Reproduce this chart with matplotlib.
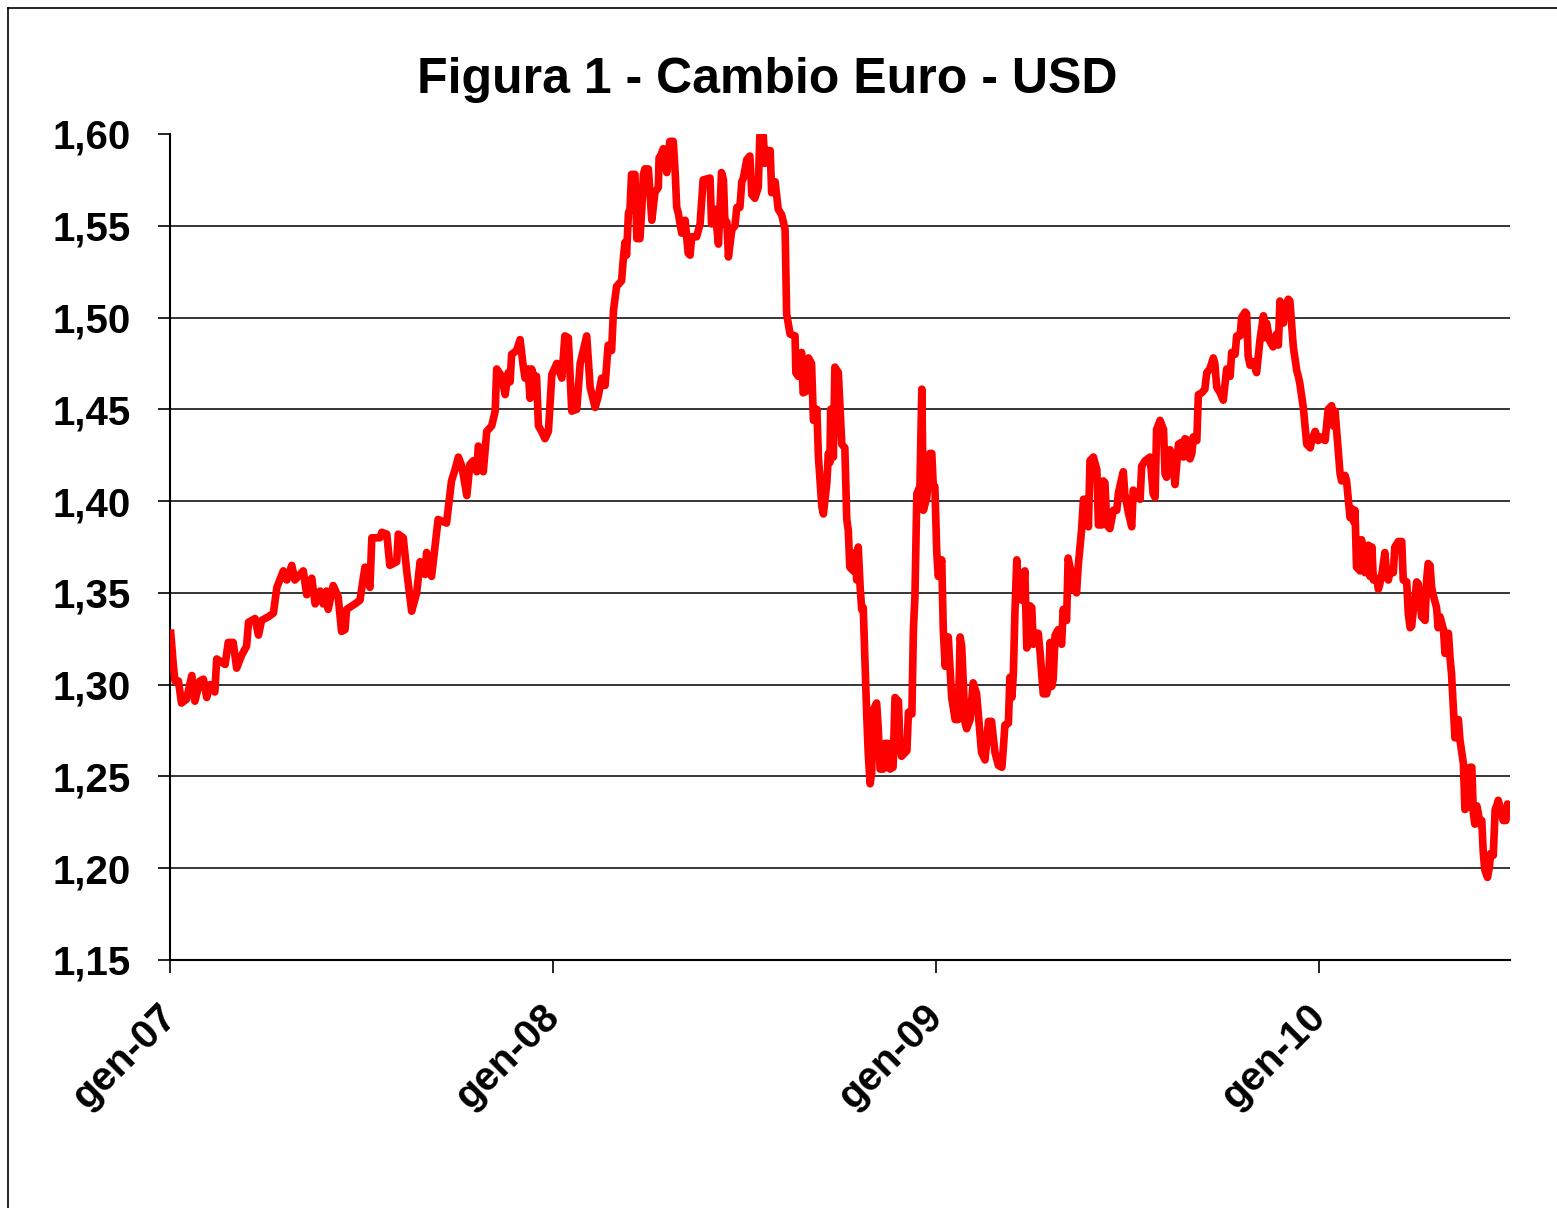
import matplotlib
matplotlib.use("Agg")
import matplotlib.pyplot as plt
from matplotlib.lines import Line2D
from matplotlib.transforms import ScaledTranslation

# ---- data (decimal year, EUR/USD rate) ----
years = [
    2007.002, 2007.009, 2007.013, 2007.022, 2007.030, 2007.043, 2007.057, 2007.065, 2007.078, 2007.087,
    2007.096, 2007.104, 2007.117, 2007.122, 2007.144, 2007.152, 2007.165, 2007.174, 2007.187, 2007.200,
    2007.205, 2007.222, 2007.231, 2007.239, 2007.257, 2007.270, 2007.279, 2007.296, 2007.305, 2007.318,
    2007.326, 2007.348, 2007.357, 2007.370, 2007.379, 2007.392, 2007.400, 2007.409, 2007.413, 2007.426,
    2007.439, 2007.448, 2007.457, 2007.461, 2007.483, 2007.496, 2007.509, 2007.522, 2007.527, 2007.548,
    2007.553, 2007.566, 2007.574, 2007.592, 2007.596, 2007.609, 2007.618, 2007.631, 2007.644, 2007.653,
    2007.666, 2007.670, 2007.683, 2007.696, 2007.700, 2007.722,
    2007.735, 2007.744, 2007.753, 2007.762, 2007.775, 2007.783, 2007.792, 2007.801, 2007.805, 2007.814,
    2007.818, 2007.827, 2007.840, 2007.849, 2007.853, 2007.866, 2007.875, 2007.883, 2007.888, 2007.892,
    2007.905, 2007.914, 2007.922, 2007.927, 2007.935, 2007.940, 2007.944, 2007.953, 2007.957, 2007.962,
    2007.970, 2007.979, 2007.988, 2007.997, 2008.010, 2008.023, 2008.031, 2008.040, 2008.049, 2008.062,
    2008.071, 2008.079, 2008.088, 2008.097, 2008.110, 2008.118, 2008.127, 2008.136, 2008.144, 2008.153,
    2008.158, 2008.166,
    2008.179, 2008.184, 2008.188, 2008.192, 2008.197, 2008.201, 2008.205, 2008.214, 2008.219, 2008.227,
    2008.232, 2008.236, 2008.240, 2008.249, 2008.258, 2008.266, 2008.275, 2008.277, 2008.279, 2008.288,
    2008.297, 2008.305, 2008.314, 2008.319, 2008.323, 2008.327, 2008.336, 2008.345, 2008.353, 2008.358,
    2008.362, 2008.375, 2008.384, 2008.392, 2008.410, 2008.414, 2008.423, 2008.432, 2008.440, 2008.445,
    2008.449, 2008.454, 2008.458, 2008.467, 2008.475, 2008.480, 2008.488, 2008.493, 2008.497, 2008.506,
    2008.514, 2008.519, 2008.527, 2008.536, 2008.540, 2008.549, 2008.553, 2008.558, 2008.567, 2008.571,
    2008.580, 2008.588, 2008.597, 2008.606,
    2008.610, 2008.619, 2008.632, 2008.634, 2008.640, 2008.649, 2008.653, 2008.662, 2008.667, 2008.675,
    2008.680, 2008.689, 2008.693, 2008.702, 2008.706, 2008.715, 2008.719, 2008.723, 2008.725, 2008.732,
    2008.736, 2008.745, 2008.754, 2008.762, 2008.767, 2008.771, 2008.775, 2008.784, 2008.789, 2008.793,
    2008.797, 2008.802, 2008.806, 2008.810, 2008.819, 2008.823, 2008.828, 2008.832, 2008.836, 2008.845,
    2008.849, 2008.854, 2008.862, 2008.867, 2008.875, 2008.880, 2008.888, 2008.893, 2008.902, 2008.906,
    2008.910, 2008.924, 2008.928, 2008.937, 2008.941, 2008.945, 2008.950, 2008.958, 2008.963, 2008.967,
    2008.976, 2008.984, 2008.989, 2008.993, 2008.997, 2009.002, 2009.006, 2009.015, 2009.019, 2009.024,
    2009.032, 2009.041, 2009.050, 2009.058, 2009.063, 2009.067, 2009.076, 2009.080, 2009.089, 2009.097,
    2009.106,
    2009.119, 2009.128, 2009.137, 2009.145, 2009.154, 2009.163, 2009.172, 2009.176, 2009.180, 2009.189,
    2009.193, 2009.198, 2009.202, 2009.206, 2009.211, 2009.215, 2009.219, 2009.224, 2009.232, 2009.237,
    2009.241, 2009.245, 2009.250, 2009.254, 2009.263, 2009.267, 2009.272, 2009.280, 2009.289, 2009.293,
    2009.298, 2009.302, 2009.306, 2009.311, 2009.319, 2009.328, 2009.332, 2009.341, 2009.345, 2009.350,
    2009.358, 2009.367, 2009.371, 2009.380, 2009.385, 2009.393, 2009.398,
    2009.402, 2009.411, 2009.420, 2009.424, 2009.433, 2009.437, 2009.441, 2009.446, 2009.454, 2009.463,
    2009.472, 2009.476, 2009.480, 2009.489, 2009.493, 2009.502, 2009.511, 2009.515, 2009.524, 2009.533,
    2009.537, 2009.546, 2009.559, 2009.567, 2009.572, 2009.576, 2009.585, 2009.594, 2009.598, 2009.602,
    2009.611, 2009.620, 2009.624, 2009.633, 2009.641, 2009.646, 2009.650, 2009.659, 2009.663, 2009.668,
    2009.672, 2009.681, 2009.685, 2009.694, 2009.702, 2009.707, 2009.715, 2009.724, 2009.728, 2009.733,
    2009.742, 2009.750, 2009.759, 2009.768, 2009.772, 2009.781, 2009.785, 2009.794, 2009.798, 2009.807,
    2009.811, 2009.815, 2009.820, 2009.828, 2009.837, 2009.846, 2009.855, 2009.859, 2009.863, 2009.872,
    2009.880, 2009.889, 2009.894, 2009.898, 2009.907, 2009.911, 2009.920, 2009.924, 2009.933, 2009.942,
    2009.946, 2009.950, 2009.959, 2009.968, 2009.977, 2009.981, 2009.990, 2009.998, 2010.007, 2010.016,
    2010.024, 2010.033, 2010.037, 2010.042,
    2010.055, 2010.059, 2010.068, 2010.072, 2010.081, 2010.085, 2010.090, 2010.094, 2010.098, 2010.107,
    2010.111, 2010.116, 2010.120, 2010.129, 2010.133, 2010.138, 2010.142, 2010.151, 2010.155, 2010.159,
    2010.164, 2010.172, 2010.177, 2010.181, 2010.185, 2010.194, 2010.198, 2010.207, 2010.216, 2010.220,
    2010.229, 2010.233, 2010.238, 2010.242, 2010.246, 2010.251, 2010.255, 2010.259, 2010.264, 2010.268,
    2010.277, 2010.281, 2010.285, 2010.290, 2010.294, 2010.298, 2010.307, 2010.311, 2010.316, 2010.325,
    2010.329, 2010.333, 2010.338, 2010.342, 2010.346, 2010.351, 2010.355, 2010.359, 2010.364, 2010.368,
    2010.377, 2010.381, 2010.386, 2010.390, 2010.394, 2010.399, 2010.403, 2010.407, 2010.412, 2010.416,
    2010.420, 2010.425, 2010.429, 2010.433, 2010.440, 2010.445, 2010.448, 2010.455, 2010.460, 2010.464,
    2010.468, 2010.481, 2010.488, 2010.492, 2010.498,
]

rate = [
    1.328, 1.310, 1.302, 1.302, 1.290, 1.292, 1.305, 1.291, 1.302, 1.303,
    1.293, 1.300, 1.296, 1.314, 1.311, 1.323, 1.323, 1.309, 1.316, 1.321,
    1.334, 1.336, 1.327, 1.335, 1.337, 1.339, 1.353, 1.362, 1.357, 1.365,
    1.357, 1.362, 1.349, 1.358, 1.344, 1.351, 1.344, 1.351, 1.341, 1.354,
    1.348, 1.329, 1.330, 1.341, 1.344, 1.346, 1.364, 1.353, 1.380, 1.380,
    1.383, 1.382, 1.365, 1.367, 1.382, 1.380, 1.362, 1.340, 1.350, 1.367,
    1.360, 1.372, 1.359, 1.383, 1.390, 1.388,
    1.411, 1.417, 1.424, 1.419, 1.403, 1.420, 1.422, 1.416, 1.430, 1.427,
    1.416, 1.438, 1.441, 1.449, 1.472, 1.468, 1.458, 1.470, 1.465, 1.480,
    1.482, 1.488, 1.474, 1.467, 1.472, 1.456, 1.472, 1.466, 1.468, 1.441,
    1.438, 1.434, 1.438, 1.469, 1.475, 1.467, 1.490, 1.489, 1.449, 1.450,
    1.475, 1.482, 1.490, 1.462, 1.451, 1.457, 1.467, 1.463, 1.485, 1.482,
    1.504, 1.517,
    1.520, 1.533, 1.541, 1.534, 1.557, 1.559, 1.578, 1.578, 1.543, 1.543,
    1.560, 1.578, 1.581, 1.581, 1.553, 1.568, 1.571, 1.587, 1.587, 1.592,
    1.579, 1.596, 1.596, 1.579, 1.560, 1.557, 1.546, 1.553, 1.535, 1.534,
    1.544, 1.544, 1.551, 1.575, 1.576, 1.551, 1.559, 1.540, 1.579, 1.575,
    1.551, 1.552, 1.533, 1.548, 1.550, 1.560, 1.560, 1.574, 1.576, 1.586,
    1.588, 1.567, 1.565, 1.571, 1.599, 1.599, 1.584, 1.591, 1.591, 1.568,
    1.574, 1.559, 1.556, 1.548,
    1.502, 1.491, 1.490, 1.470, 1.468, 1.481, 1.459, 1.460, 1.478, 1.475,
    1.444, 1.450, 1.424, 1.397, 1.393, 1.410, 1.426, 1.421, 1.450, 1.424,
    1.473, 1.470, 1.431, 1.429, 1.390, 1.384, 1.364, 1.362, 1.372, 1.357,
    1.375, 1.353, 1.341, 1.342, 1.284, 1.263, 1.246, 1.252, 1.286, 1.290,
    1.277, 1.254, 1.254, 1.268, 1.268, 1.254, 1.255, 1.293, 1.291, 1.266,
    1.261, 1.264, 1.285, 1.284, 1.330, 1.348, 1.404, 1.408, 1.461, 1.395,
    1.402, 1.426, 1.426, 1.408, 1.408, 1.372, 1.359, 1.368, 1.330, 1.310,
    1.326, 1.293, 1.281, 1.281, 1.326, 1.321, 1.279, 1.276, 1.281, 1.301,
    1.295,
    1.263, 1.259, 1.280, 1.280, 1.263, 1.256, 1.255, 1.266, 1.278, 1.279,
    1.304, 1.293, 1.306, 1.339, 1.368, 1.352, 1.361, 1.346, 1.362, 1.320,
    1.322, 1.343, 1.342, 1.322, 1.328, 1.328, 1.317, 1.295, 1.295, 1.299,
    1.323, 1.299, 1.303, 1.327, 1.330, 1.322, 1.341, 1.335, 1.369, 1.364,
    1.353, 1.350, 1.364, 1.384, 1.401, 1.401, 1.386,
    1.422, 1.424, 1.417, 1.387, 1.387, 1.411, 1.410, 1.387, 1.385, 1.395,
    1.395, 1.404, 1.408, 1.416, 1.404, 1.394, 1.386, 1.406, 1.404, 1.401,
    1.419, 1.422, 1.424, 1.404, 1.402, 1.439, 1.444, 1.439, 1.415, 1.413,
    1.428, 1.419, 1.409, 1.431, 1.432, 1.424, 1.434, 1.433, 1.423, 1.426,
    1.435, 1.433, 1.458, 1.459, 1.461, 1.470, 1.472, 1.478, 1.475, 1.462,
    1.459, 1.455, 1.472, 1.468, 1.481, 1.480, 1.490, 1.490, 1.500, 1.503,
    1.502, 1.479, 1.474, 1.476, 1.470, 1.488, 1.501, 1.489, 1.497, 1.487,
    1.484, 1.491, 1.485, 1.509, 1.497, 1.506, 1.510, 1.509, 1.484, 1.471,
    1.468, 1.464, 1.451, 1.431, 1.429, 1.433, 1.438, 1.433, 1.435, 1.433,
    1.450, 1.452, 1.441, 1.449,
    1.415, 1.411, 1.414, 1.411, 1.391, 1.396, 1.389, 1.395, 1.364, 1.362,
    1.379, 1.366, 1.361, 1.376, 1.359, 1.375, 1.357, 1.358, 1.352, 1.355,
    1.360, 1.372, 1.359, 1.357, 1.361, 1.361, 1.375, 1.378, 1.378, 1.357,
    1.356, 1.339, 1.331, 1.332, 1.340, 1.348, 1.356, 1.355, 1.346, 1.337,
    1.335, 1.357, 1.366, 1.365, 1.353, 1.349, 1.342, 1.331, 1.337, 1.330,
    1.317, 1.327, 1.328, 1.315, 1.306, 1.287, 1.271, 1.279, 1.281, 1.270,
    1.257, 1.232, 1.233, 1.239, 1.255, 1.255, 1.230, 1.224, 1.234, 1.230,
    1.224, 1.226, 1.208, 1.199, 1.195, 1.201, 1.208, 1.207, 1.232, 1.234,
    1.237, 1.226, 1.226, 1.235, 1.234,
]

x_tick_pos = [2007, 2008, 2009, 2010]
x_tick_labels = ["gen-07", "gen-08", "gen-09", "gen-10"]
y_tick_pos = [1.15, 1.20, 1.25, 1.30, 1.35, 1.40, 1.45, 1.50, 1.55, 1.60]
y_tick_labels = ["1,15", "1,20", "1,25", "1,30", "1,35", "1,40", "1,45", "1,50", "1,55", "1,60"]
title = "Figura 1 - Cambio Euro - USD"

# ---- figure ----
W, H = 1557, 1208
fig = plt.figure(figsize=(W / 100, H / 100), dpi=100)
fig.patch.set_facecolor("white")

ax = fig.add_axes([170 / W, 1 - 960 / H, (1510 - 170) / W, (960 - 134) / H])
ax.set_xlim(2007.0, 2007.0 + 1340 / 383)
ax.set_ylim(1.15, 1.60)

# horizontal gridlines (not at bottom / top)
for yv in y_tick_pos[1:-1]:
    ax.axhline(yv, color="black", lw=1.1, zorder=1)

ax.plot(years, rate, color="#ff0000", lw=5.5, solid_joinstyle="round", zorder=3)

for s in ["top", "right"]:
    ax.spines[s].set_visible(False)
for s in ["left", "bottom"]:
    ax.spines[s].set_color("black")
    ax.spines[s].set_linewidth(1.5)

font = dict(family="Liberation Sans", weight="bold", size=29)
ax.set_yticks(y_tick_pos)
ax.set_yticklabels(y_tick_labels, fontdict=font)
ax.set_xticks(x_tick_pos)
ax.set_xticklabels(x_tick_labels, fontdict=font, rotation=45, ha="right",
                   rotation_mode="anchor")
ax.tick_params(axis="y", direction="out", length=9, width=1.2, pad=19)
ax.tick_params(axis="x", direction="out", length=9, width=1.2, pad=10)
offset = ScaledTranslation(-0.13, -0.11, fig.dpi_scale_trans)
for lab in ax.get_xticklabels():
    lab.set_transform(lab.get_transform() + offset)

fig.text(767 / W, 1 - 93 / H, title, ha="center", va="baseline",
         family="Liberation Sans", weight="bold", fontsize=36)

# figure frame lines (top and left)
fig.add_artist(Line2D([8 / W, 1.0], [1 - 8 / H, 1 - 8 / H], color="black", lw=1.2,
                      transform=fig.transFigure))
fig.add_artist(Line2D([8 / W, 8 / W], [0.0, 1 - 8 / H], color="black", lw=1.2,
                      transform=fig.transFigure))

fig.savefig("out.png", dpi=100, facecolor="white")
